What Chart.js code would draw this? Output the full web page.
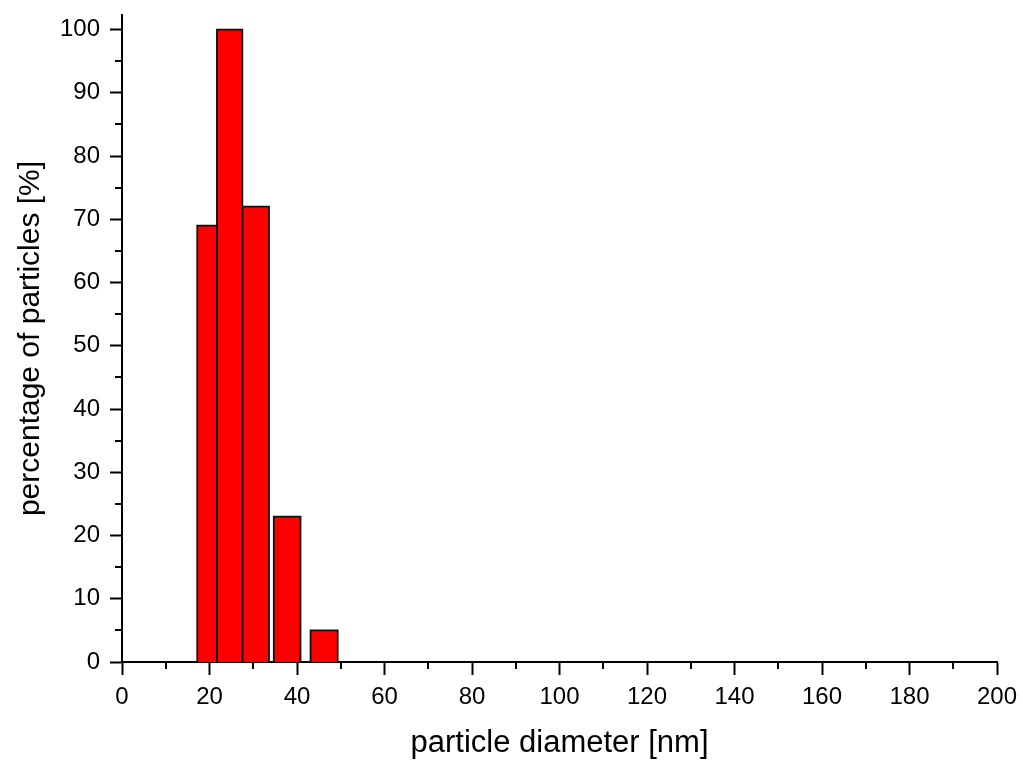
<!DOCTYPE html>
<html>
<head>
<meta charset="utf-8">
<script src="https://cdn.jsdelivr.net/npm/chart.js@4.4.1/dist/chart.umd.min.js"></script>
<style>
    html, body { margin: 0; padding: 0; background: #fff; }
    #wrap { width: 1023px; height: 762px; }
</style>
</head>
<body>
<div id="wrap"><canvas id="histChart"></canvas></div>
<script>
// size bins (nm) and share of particles in each bin
const binStart = [17.2, 21.7, 27.5, 34.7, 43.1];
const binEnd = [21.7, 27.5, 33.6, 40.8, 49.3];
const percent = [69, 100, 72, 23, 5];

const xMajorTicks = [0, 20, 40, 60, 80, 100, 120, 140, 160, 180, 200];
const xMinorTicks = [10, 30, 50, 70, 90, 110, 130, 150, 170, 190];
const yMajorTicks = [0, 10, 20, 30, 40, 50, 60, 70, 80, 90, 100];
const yMinorTicks = [5, 15, 25, 35, 45, 55, 65, 75, 85, 95];

const fontFamily = "'Liberation Sans', Arial, sans-serif";

// each bin becomes a closed rectangle outline filled down to zero
const datasets = percent.map((h, i) => ({
    data: [
        { x: binStart[i], y: 0 },
        { x: binStart[i], y: h },
        { x: binEnd[i], y: h },
        { x: binEnd[i], y: 0 }
    ],
    backgroundColor: '#ff0000',
    borderColor: '#111',
    borderWidth: 1.8,
    fill: 'origin',
    pointRadius: 0,
    tension: 0
}));

// short outer ticks between the labelled ones
const minorTicks = {
    id: 'minorTicks',
    afterDraw(chart) {
        const ctx = chart.ctx;
        const xs = chart.scales.x;
        const ys = chart.scales.y;
        const area = chart.chartArea;
        ctx.save();
        ctx.strokeStyle = '#000';
        ctx.lineWidth = 2;
        ctx.beginPath();
        xMinorTicks.forEach(v => {
            const px = Math.round(xs.getPixelForValue(v));
            ctx.moveTo(px, area.bottom);
            ctx.lineTo(px, area.bottom + 7);
        });
        yMinorTicks.forEach(v => {
            const py = Math.round(ys.getPixelForValue(v));
            ctx.moveTo(area.left - 7, py);
            ctx.lineTo(area.left, py);
        });
        ctx.stroke();
        ctx.restore();
    }
};

new Chart(document.getElementById('histChart'), {
    type: 'line',
    data: { datasets: datasets },
    options: {
        responsive: true,
        maintainAspectRatio: false,
        animation: false,
        layout: { padding: { top: 15, right: 26, bottom: 0, left: 0 } },
        plugins: {
            legend: { display: false },
            tooltip: { enabled: false }
        },
        scales: {
            x: {
                type: 'linear',
                min: 0,
                max: 200,
                z: 1,
                afterFit(scale) {
                    scale.height = 100;
                    scale.paddingLeft = 0;
                    scale.paddingRight = 0;
                },
                afterBuildTicks(scale) { scale.ticks = xMajorTicks.map(v => ({ value: v })); },
                grid: { drawOnChartArea: false, tickLength: 13, tickWidth: 2, tickColor: '#000' },
                border: { display: true, color: '#000', width: 2 },
                ticks: {
                    color: '#000',
                    padding: 8,
                    maxRotation: 0,
                    font: { family: fontFamily, size: 24 }
                },
                title: {
                    display: true,
                    text: 'particle diameter [nm]',
                    color: '#000',
                    padding: { top: 0, bottom: 0 },
                    font: { family: fontFamily, size: 31 }
                }
            },
            y: {
                type: 'linear',
                min: 0,
                max: 102.3,
                z: 1,
                afterFit(scale) {
                    scale.width = 122;
                    scale.paddingTop = 0;
                    scale.paddingBottom = 0;
                },
                afterBuildTicks(scale) { scale.ticks = yMajorTicks.map(v => ({ value: v })); },
                grid: { drawOnChartArea: false, tickLength: 12, tickWidth: 2, tickColor: '#000' },
                border: { display: true, color: '#000', width: 2 },
                ticks: {
                    color: '#000',
                    padding: 10,
                    font: { family: fontFamily, size: 24 }
                },
                title: {
                    display: true,
                    text: 'percentage of particles [%]',
                    color: '#000',
                    padding: { top: 13, bottom: 0 },
                    font: { family: fontFamily, size: 30 }
                }
            }
        }
    },
    plugins: [minorTicks]
});
</script>
</body>
</html>
